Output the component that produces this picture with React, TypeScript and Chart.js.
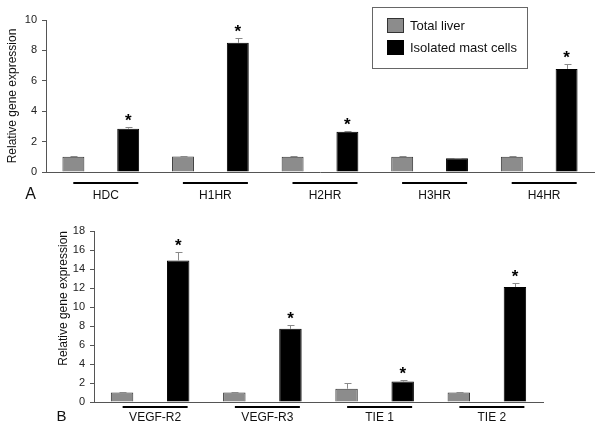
import React, { useEffect, useRef } from 'react';
import { Chart, registerables } from 'chart.js';

Chart.register(...registerables);

const FONT = '"Liberation Sans", Arial, Helvetica, sans-serif';

const seriesNames = ['Total liver', 'Isolated mast cells'];
const seriesColors = ['#8c8c8c', '#000000'];
const seriesBorders = ['#333333', '#000000'];

// Panel A
const categoriesA = ['HDC', 'H1HR', 'H2HR', 'H3HR', 'H4HR'];
const liverA = [1.0, 1.02, 1.0, 1.0, 1.0];
const liverErrA = [0.03, 0.04, 0.03, 0.02, 0.04];
const mastA = [2.85, 8.5, 2.65, 0.9, 6.78];
const mastErrA = [0.1, 0.3, 0.04, 0.03, 0.3];
const sigA = [true, true, true, false, true];
const ticksA = [0, 2, 4, 6, 8, 10];

// Panel B
const categoriesB = ['VEGF-R2', 'VEGF-R3', 'TIE 1', 'TIE 2'];
const liverB = [1.0, 1.0, 1.4, 1.0];
const liverErrB = [0.05, 0.05, 0.6, 0.04];
const mastB = [14.9, 7.7, 2.15, 12.1];
const mastErrB = [0.9, 0.4, 0.2, 0.45];
const sigB = [true, true, true, true];
const ticksB = [0, 2, 4, 6, 8, 10, 12, 14, 16, 18];

const decorPlugin = {
  id: 'decor',
  afterDatasetsDraw(chart: any, _args: any, opts: any) {
    const ctx = chart.ctx;
    const ys = chart.scales.y;
    // error bars
    chart.data.datasets.forEach((ds: any, di: number) => {
      const meta = chart.getDatasetMeta(di);
      meta.data.forEach((el: any, i: number) => {
        const v = ds.data[i];
        const e = ds.errors[i];
        const yt = Math.round(ys.getPixelForValue(v + e)) + 0.5;
        const xc = Math.round(el.x) + 0.5;
        ctx.save();
        ctx.strokeStyle = '#8a8a8a';
        ctx.lineWidth = 1;
        ctx.beginPath();
        ctx.moveTo(xc, el.y);
        ctx.lineTo(xc, yt);
        ctx.moveTo(xc - 3, yt);
        ctx.lineTo(xc + 4, yt);
        ctx.stroke();
        ctx.restore();
      });
    });
    // asterisks above the mast-cell bars
    const ds = chart.data.datasets[1];
    const meta = chart.getDatasetMeta(1);
    const sig: boolean[] = opts.sig;
    ctx.save();
    ctx.fillStyle = '#000';
    ctx.font = 'bold 17px ' + FONT;
    ctx.textAlign = 'center';
    ctx.textBaseline = 'alphabetic';
    meta.data.forEach((el: any, i: number) => {
      if (!sig[i]) return;
      const yt = ys.getPixelForValue(ds.data[i] + ds.errors[i]);
      const yc = yt - 11;
      ctx.fillText('*', el.x, yc + 10);
    });
    ctx.restore();
  },
  afterDraw(chart: any, _args: any, opts: any) {
    const ctx = chart.ctx;
    const xs = chart.scales.x;
    const area = chart.chartArea;
    // group underlines
    ctx.save();
    ctx.strokeStyle = '#000';
    ctx.lineWidth = 2;
    chart.data.labels.forEach((_l: any, i: number) => {
      const c = xs.getPixelForValue(i) + 5;
      const y = Math.round(area.bottom + opts.lineGap);
      ctx.beginPath();
      ctx.moveTo(c - 32.5, y);
      ctx.lineTo(c + 32.5, y);
      ctx.stroke();
    });
    ctx.restore();
    // panel letter
    ctx.save();
    ctx.fillStyle = '#111';
    ctx.font = opts.letterSize + 'px ' + FONT;
    ctx.textAlign = 'center';
    ctx.textBaseline = 'middle';
    ctx.fillText(opts.letter, opts.letterX, opts.letterY);
    ctx.restore();
    // legend
    if (opts.legend) {
      const L = opts.legend;
      ctx.save();
      ctx.fillStyle = '#fff';
      ctx.fillRect(L.x, L.y, L.w, L.h);
      ctx.strokeStyle = '#666';
      ctx.lineWidth = 1;
      ctx.strokeRect(L.x + 0.5, L.y + 0.5, L.w, L.h);
      ctx.font = '13px ' + FONT;
      ctx.textBaseline = 'middle';
      ctx.textAlign = 'left';
      chart.data.datasets.forEach((ds: any, i: number) => {
        const sy = L.y + 11 + i * 22;
        ctx.fillStyle = ds.backgroundColor;
        ctx.fillRect(L.x + 15, sy, 17, 15);
        ctx.strokeStyle = ds.borderColor;
        ctx.strokeRect(L.x + 15.5, sy + 0.5, 16, 14);
        ctx.fillStyle = '#111';
        ctx.fillText(ds.label, L.x + 38, sy + 8);
      });
      ctx.restore();
    }
  },
};

function makeConfig(p: any) {
  return {
    type: 'bar',
    data: {
      labels: p.categories,
      datasets: [
        {
          label: seriesNames[0],
          data: p.liver,
          errors: p.liverErr,
          backgroundColor: seriesColors[0],
          borderColor: seriesBorders[0],
          borderWidth: 1,
        },
        {
          label: seriesNames[1],
          data: p.mast,
          errors: p.mastErr,
          backgroundColor: seriesColors[1],
          borderColor: seriesBorders[1],
          borderWidth: 1,
        },
      ],
    },
    options: {
      responsive: false,
      animation: false,
      devicePixelRatio: 1,
      events: [],
      datasets: { bar: { categoryPercentage: 1.0, barPercentage: 0.4 } },
      layout: { padding: p.padding },
      plugins: {
        legend: { display: false },
        tooltip: { enabled: false },
        title: { display: false },
        decor: {
          sig: p.sig,
          lineGap: p.lineGap,
          letter: p.letter,
          letterX: p.letterX,
          letterY: p.letterY,
          letterSize: p.letterSize,
          legend: p.legend,
        },
      },
      scales: {
        x: {
          grid: { display: false, drawTicks: false },
          border: { display: true, color: '#555', width: 1 },
          ticks: {
            font: { size: 12, family: FONT },
            color: '#111',
            padding: p.xPad,
            labelOffset: 5,
            maxRotation: 0,
            autoSkip: false,
          },
          afterFit: (s: any) => {
            s.height = p.xHeight;
          },
        },
        y: {
          min: 0,
          max: p.ticks[p.ticks.length - 1],
          afterBuildTicks: (s: any) => {
            s.ticks = p.ticks.map((v: number) => ({ value: v }));
          },
          grid: {
            display: true,
            drawOnChartArea: false,
            drawTicks: true,
            tickLength: 4,
            color: '#555',
          },
          border: { display: true, color: '#555', width: 1 },
          ticks: {
            font: { size: 11, family: FONT },
            color: '#222',
            padding: 5,
          },
          title: {
            display: true,
            text: 'Relative gene expression',
            align: p.titleAlign,
            font: { size: 12, family: FONT },
            color: '#111',
            padding: { top: 5, bottom: 0 },
          },
          afterFit: (s: any) => {
            s.width = p.yWidth;
          },
        },
      },
    },
    plugins: [decorPlugin],
  };
}

function Panel(props: { p: any; top: number; height: number }) {
  const ref = useRef<HTMLCanvasElement | null>(null);
  useEffect(() => {
    if (!ref.current) return;
    const chart = new Chart(ref.current, makeConfig(props.p) as any);
    return () => chart.destroy();
  }, []);
  return (
    <canvas
      ref={ref}
      width={602}
      height={props.height}
      style={{ position: 'absolute', left: 0, top: props.top, width: 602, height: props.height }}
    />
  );
}

const panelA = {
  categories: categoriesA,
  liver: liverA,
  liverErr: liverErrA,
  mast: mastA,
  mastErr: mastErrA,
  sig: sigA,
  ticks: ticksA,
  padding: { left: 0, right: 8, top: 20, bottom: 0 },
  yWidth: 46,
  xHeight: 40,
  xPad: 16,
  lineGap: 11,
  titleAlign: 'center',
  letter: 'A',
  letterX: 30.5,
  letterY: 195,
  letterSize: 16,
  legend: { x: 372, y: 7, w: 155, h: 61 },
};

const panelB = {
  categories: categoriesB,
  liver: liverB,
  liverErr: liverErrB,
  mast: mastB,
  mastErr: mastErrB,
  sig: sigB,
  ticks: ticksB,
  padding: { left: 51, right: 59, top: 19, bottom: 0 },
  yWidth: 43,
  xHeight: 28,
  xPad: 8,
  lineGap: 5,
  titleAlign: 'end',
  letter: 'B',
  letterX: 61.5,
  letterY: 205,
  letterSize: 15,
  legend: null,
};

export default function App() {
  return (
    <div style={{ position: 'fixed', left: 0, top: 0, width: 602, height: 430, background: '#fff' }}>
      <Panel p={panelA} top={0} height={212} />
      <Panel p={panelB} top={212} height={218} />
    </div>
  );
}
